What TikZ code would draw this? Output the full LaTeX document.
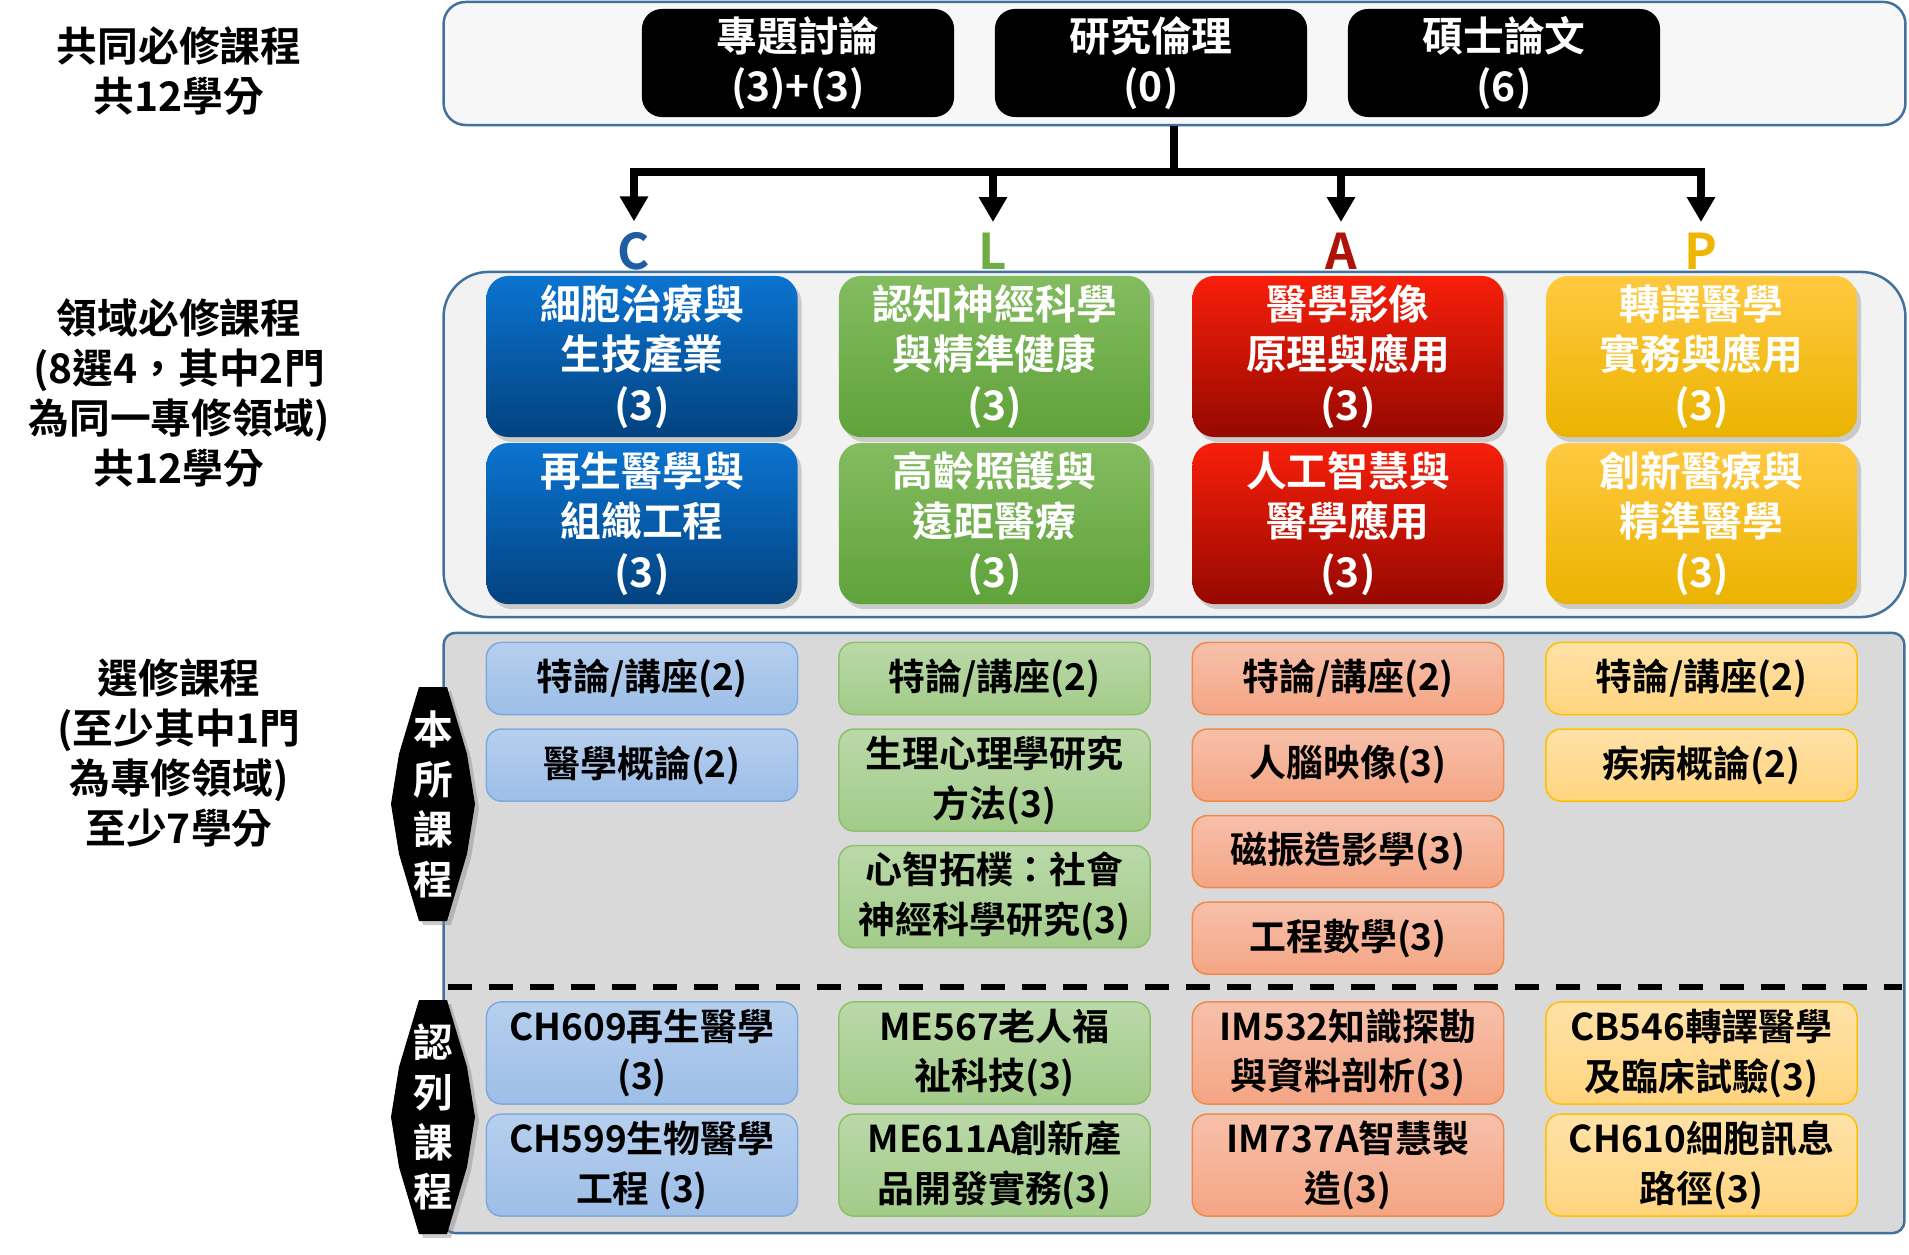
\documentclass[tikz,border=0pt]{standalone}
\usepackage{fontspec}
\setmainfont{Noto Sans CJK TC}[BoldFont={Noto Sans CJK TC Bold}]
\usepackage{tikz}
\usetikzlibrary{positioning,arrows.meta,shadows}

\definecolor{frameblue}{HTML}{41719C}
\definecolor{panelA}{HTML}{F7F7F7}
\definecolor{panelB}{HTML}{F2F2F2}
\definecolor{panelC}{HTML}{D9D9D9}
\definecolor{trackC}{HTML}{1E5DA3}
\definecolor{trackL}{HTML}{6DAD44}
\definecolor{trackA}{HTML}{AE1208}
\definecolor{trackP}{HTML}{EFB503}

\begin{document}
\begin{tikzpicture}[
    x=0.01cm, y=-0.01cm,
    panel/.style={draw=frameblue, line width=0.025cm, inner sep=0pt},
    core/.style={fill=black, rounded corners=0.2cm, minimum width=3.12cm, minimum height=1.08cm,
        text=white, align=center, inner sep=0pt, font=\bfseries\fontsize{11.6}{14.4}\selectfont},
    major/.style={rounded corners=0.22cm, minimum width=3.11cm, minimum height=1.61cm, text=white,
        align=center, inner sep=0pt, outer sep=0pt, font=\bfseries\fontsize{11.6}{14.4}\selectfont,
        drop shadow={opacity=0.35, shadow xshift=0.04cm, shadow yshift=-0.05cm}},
    majblue/.style={top color={rgb,255:red,11;green,116;blue,209}, bottom color={rgb,255:red,3;green,66;blue,127}},
    majgreen/.style={top color={rgb,255:red,132;green,188;blue,96}, bottom color={rgb,255:red,95;green,162;blue,58}},
    majred/.style={top color={rgb,255:red,248;green,31;blue,10}, bottom color={rgb,255:red,150;green,8;blue,0}},
    majgold/.style={top color={rgb,255:red,255;green,201;blue,64}, bottom color={rgb,255:red,235;green,179;blue,0}},
    elec/.style={rounded corners=0.15cm, minimum width=3.11cm, minimum height=0.72cm, align=center,
        inner sep=0.02cm, outer sep=0pt, line width=0.015cm, font=\bfseries\fontsize{10.5}{14.2}\selectfont},
    pair/.style={elec, minimum height=1.02cm},
    optblue/.style={draw={rgb,255:red,127;green,170;blue,224}, top color={rgb,255:red,182;green,207;blue,238}, bottom color={rgb,255:red,157;green,190;blue,231}},
    optgreen/.style={draw={rgb,255:red,141;green,194;blue,108}, top color={rgb,255:red,186;green,217;blue,168}, bottom color={rgb,255:red,162;green,203;blue,137}},
    optred/.style={draw={rgb,255:red,239;green,138;blue,76}, top color={rgb,255:red,247;green,192;blue,170}, bottom color={rgb,255:red,244;green,165;blue,132}},
    optgold/.style={draw={rgb,255:red,255;green,192;blue,0}, top color={rgb,255:red,255;green,226;blue,168}, bottom color={rgb,255:red,255;green,212;blue,126}},
    head/.style={align=center, font=\bfseries\fontsize{11.6}{14.2}\selectfont},
    track/.style={inner sep=0.1cm, font=\bfseries\fontsize{14}{14}\selectfont},
    trunk/.style={line width=0.075cm},
    branch/.style={line width=0.075cm, -{Triangle[length=0.25cm, width=0.27cm]}},
    divider/.style={line width=0.06cm, dash pattern=on 0.24cm off 0.17cm},
    node distance=0.145cm
]
\useasboundingbox (0,0) rectangle (1909,1255);

% three panels
\node[panel, fill=panelA, rounded corners=0.22cm, minimum width=14.61cm, minimum height=1.23cm] (common) at (1174.5,63.5) {};
\node[panel, fill=panelB, rounded corners=0.45cm, minimum width=14.61cm, minimum height=3.45cm] (field) at (1174.5,444.5) {};
\node[panel, fill=panelC, rounded corners=0.12cm, minimum width=14.60cm, minimum height=6.00cm] (elective) at (1174,933) {};

% row titles
\node[head] (lab1) at (179,71) {共同必修課程\\共12學分};
\node[head] (lab2) at (179,393) {領域必修課程\\(8選4，其中2門\\為同一專修領域)\\共12學分};
\node[head] (lab3) at (179,753) {選修課程\\(至少其中1門\\為專修領域)\\至少7學分};

% common courses
\node[core] (seminar) at (798,63) {專題討論\\(3)+(3)};
\node[core] (ethics) at (1151,63) {研究倫理\\(0)};
\node[core] (thesis) at (1504,63) {碩士論文\\(6)};

% tracks
\node[track, text=trackC] (tc) at (634,251) {C};
\node[track, text=trackL] (tl) at (993,251) {L};
\node[track, text=trackA] (ta) at (1341,251) {A};
\node[track, text=trackP] (tp) at (1701,251) {P};

\coordinate (hub) at (1174,172);
\draw[trunk] (hub |- common.south) -- (hub);
\draw[branch] (hub) -| (tc.north);
\draw[branch] (hub) -| (tl.north);
\draw[branch] (hub) -| (ta.north);
\draw[branch] (hub) -| (tp.north);

% field courses
\node[major, majblue] (cell) at (642,356.5) {細胞治療與\\生技產業\\(3)};
\node[major, majblue, below=0.06cm of cell] (regen) {再生醫學與\\組織工程\\(3)};
\node[major, majgreen] (cogn) at (994.5,356.5) {認知神經科學\\與精準健康\\(3)};
\node[major, majgreen, below=0.06cm of cogn] (aging) {高齡照護與\\遠距醫療\\(3)};
\node[major, majred] (imaging) at (1348,356.5) {醫學影像\\原理與應用\\(3)};
\node[major, majred, below=0.06cm of imaging] (aimed) {人工智慧與\\醫學應用\\(3)};
\node[major, majgold] (transl) at (1701.5,356.5) {轉譯醫學\\實務與應用\\(3)};
\node[major, majgold, below=0.06cm of transl] (innov) {創新醫療與\\精準醫學\\(3)};

% side tags
\foreach \cy/\nm/\txt in {804/own/{本\\所\\課\\程}, 1117/ack/{認\\列\\課\\程}} {
  \begin{scope}[shift={(433,\cy)}]
    \fill[black, drop shadow={opacity=0.4, shadow xshift=0.04cm, shadow yshift=-0.04cm}]
      (-14,-117) -- (14,-117) -- (34,-50) -- (42,0) -- (34,50) -- (14,117)
      -- (-14,117) -- (-34,50) -- (-42,0) -- (-34,-50) -- cycle;
    \node[text=white, align=center, inner sep=0pt, font=\bfseries\fontsize{11.3}{14.2}\selectfont] (\nm) at (0,0) {\txt};
  \end{scope}
}

% own electives
\node[elec, optblue] (blue1) at (642,678.5) {特論/講座(2)};
\node[elec, optblue, below=of blue1] (blue2) {醫學概論(2)};
\node[elec, optgreen] (green1) at (994.5,678.5) {特論/講座(2)};
\node[pair, optgreen, below=of green1] (green2) {生理心理學研究\\方法(3)};
\node[pair, optgreen, below=of green2] (green3) {心智拓樸：社會\\神經科學研究(3)};
\node[elec, optred] (red1) at (1348,678.5) {特論/講座(2)};
\node[elec, optred, below=of red1] (red2) {人腦映像(3)};
\node[elec, optred, below=of red2] (red3) {磁振造影學(3)};
\node[elec, optred, below=of red3] (red4) {工程數學(3)};
\node[elec, optgold] (gold1) at (1701.5,678.5) {特論/講座(2)};
\node[elec, optgold, below=of gold1] (gold2) {疾病概論(2)};

\coordinate (cutL) at (448,987);
\coordinate (cutR) at (1902,987);
\draw[divider] (cutL) -- (cutR);

% recognised electives
\node[pair, optblue] (ch609) at (642,1053) {CH609再生醫學\\(3)};
\node[pair, optblue, below=0.1cm of ch609] (ch599) {CH599生物醫學\\工程 (3)};
\node[pair, optgreen] (me567) at (994.5,1053) {ME567老人福\\祉科技(3)};
\node[pair, optgreen, below=0.1cm of me567] (me611) {ME611A創新產\\品開發實務(3)};
\node[pair, optred] (im532) at (1348,1053) {IM532知識探勘\\與資料剖析(3)};
\node[pair, optred, below=0.1cm of im532] (im737) {IM737A智慧製\\造(3)};
\node[pair, optgold] (cb546) at (1701.5,1053) {CB546轉譯醫學\\及臨床試驗(3)};
\node[pair, optgold, below=0.1cm of cb546] (ch610) {CH610細胞訊息\\路徑(3)};

\end{tikzpicture}
\end{document}
